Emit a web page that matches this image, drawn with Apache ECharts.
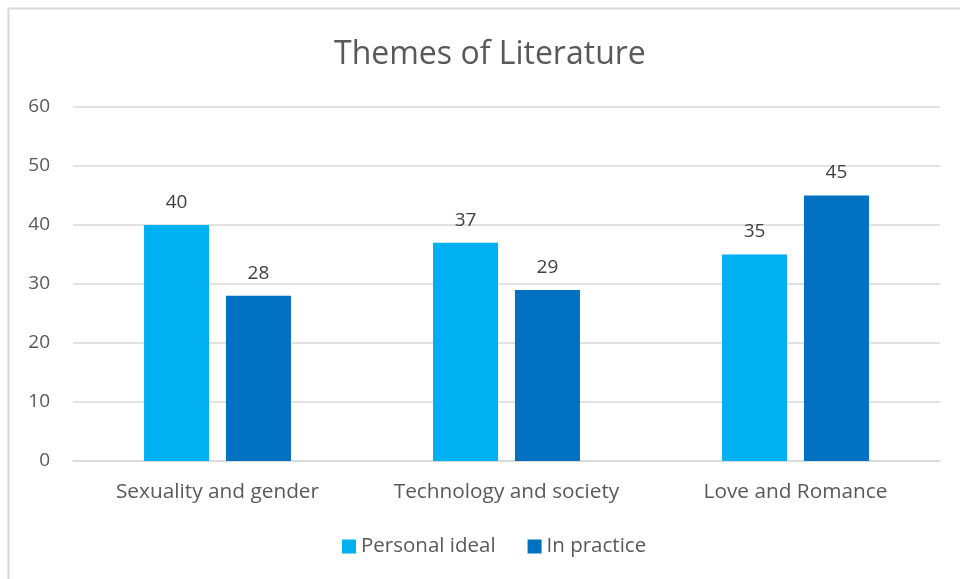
<!DOCTYPE html>
<html>
<head>
<meta charset="utf-8">
<script src="https://cdn.jsdelivr.net/npm/echarts@6/dist/echarts.min.js"></script>
<style>
  html, body { margin: 0; padding: 0; background: #fff; }
  #chart { width: 960px; height: 579px; }
</style>
</head>
<body>
<div id="chart"></div>
<script>
// Survey themes and responses per series
const categories = ['Sexuality and gender', 'Technology and society', 'Love and Romance'];
const personalIdeal = [40, 37, 35];
const inPractice = [28, 29, 45];
const yTicks = [0, 10, 20, 30, 40, 50, 60];

const FONT = 'Open Sans';
const chart = echarts.init(document.getElementById('chart'));

const labelStyle = {
  show: true,
  position: 'top',
  distance: 13,
  color: '#404040',
  fontSize: 19,
  fontFamily: FONT
};

chart.setOption({
  backgroundColor: '#ffffff',
  animation: false,
  title: {
    text: 'Themes of Literature',
    left: 329,
    top: 34,
    textStyle: { color: '#595959', fontSize: 32, fontWeight: 'normal', fontFamily: FONT }
  },
  graphic: [{
    type: 'rect',
    shape: { x: 8.5, y: 8.5, width: 1000, height: 1000 },
    style: { fill: 'none', stroke: '#d9d9d9', lineWidth: 2 },
    silent: true
  }],
  legend: {
    bottom: 17,
    left: 337,
    itemWidth: 14,
    itemHeight: 14,
    itemGap: 32,
    icon: 'rect',
    textStyle: { color: '#595959', fontSize: 20.5, fontFamily: FONT },
    data: ['Personal ideal', 'In practice']
  },
  grid: { left: 73, right: 20, top: 107, bottom: 118 },
  xAxis: {
    type: 'category',
    data: categories,
    axisLine: { lineStyle: { color: '#d9d9d9', width: 1.5 } },
    axisTick: { show: false },
    axisLabel: { color: '#595959', fontSize: 20.8, fontFamily: FONT, margin: 21, interval: 0, hideOverlap: false }
  },
  yAxis: {
    type: 'value',
    min: yTicks[0],
    max: yTicks[yTicks.length - 1],
    interval: 10,
    axisLine: { show: false },
    axisTick: { show: false },
    splitLine: { lineStyle: { color: '#d9d9d9', width: 1.5 } },
    axisLabel: { color: '#595959', fontSize: 19, fontFamily: FONT, margin: 23 }
  },
  series: [
    {
      name: 'Personal ideal',
      type: 'bar',
      data: personalIdeal,
      barWidth: 65,
      barGap: '26%',
      itemStyle: { color: '#00B0F0' },
      label: labelStyle
    },
    {
      name: 'In practice',
      type: 'bar',
      data: inPractice,
      barWidth: 65,
      barGap: '26%',
      itemStyle: { color: '#0070C0' },
      label: labelStyle
    }
  ]
});
</script>
</body>
</html>
